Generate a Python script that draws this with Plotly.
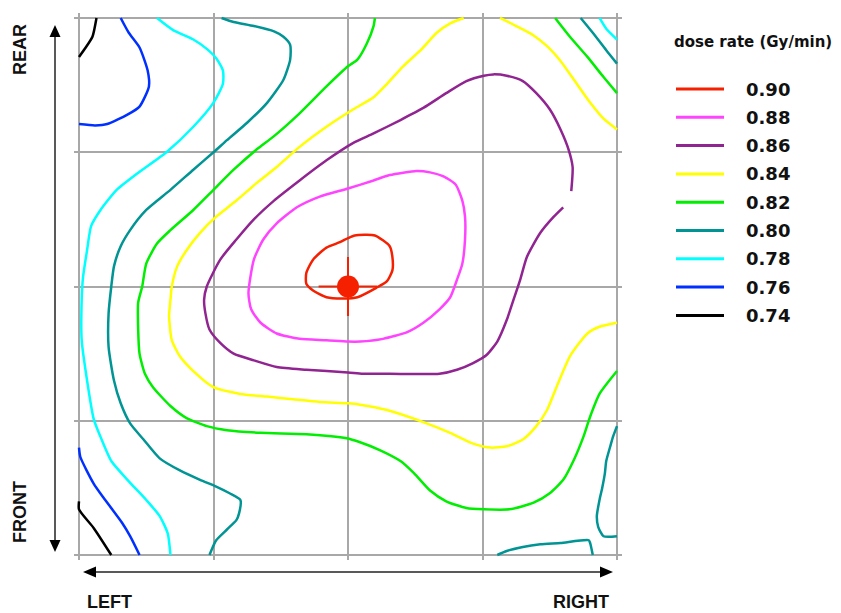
import plotly.graph_objects as go

# ---------------- data (grid units: x 0=LEFT..4=RIGHT, y 0=FRONT..4=REAR) ----------------
LEVELS = ["0.90", "0.88", "0.86", "0.84", "0.82", "0.80", "0.78", "0.76", "0.74"]
COLORS = ["#f52000", "#ff44ff", "#902490", "#ffff00", "#00ee00", "#009494", "#00ffff", "#0030ff", "#000000"]

c090_x = [2.00, 2.05, 2.20, 2.31, 2.33, 2.33, 2.29, 2.21, 2.07, 1.97, 1.84, 1.74, 1.69, 1.69, 1.74, 1.84, 1.94, 2.00]
c090_y = [2.36, 2.38, 2.38, 2.30, 2.22, 2.12, 2.04, 1.99, 1.92, 1.91, 1.92, 1.97, 2.02, 2.10, 2.20, 2.29, 2.33, 2.36]

c088_x = [2.00, 2.19, 2.31, 2.51, 2.61, 2.71, 2.80, 2.85, 2.87, 2.87, 2.85, 2.81, 2.76, 2.68, 2.56, 2.44,
          2.26, 2.09, 2.00, 1.84, 1.64, 1.47, 1.35, 1.28, 1.26, 1.30, 1.37, 1.47, 1.62, 1.79, 2.00]
c088_y = [2.73, 2.79, 2.83, 2.86, 2.85, 2.82, 2.76, 2.64, 2.52, 2.35, 2.17, 2.05, 1.92, 1.83, 1.73, 1.66,
          1.61, 1.59, 1.59, 1.60, 1.61, 1.65, 1.73, 1.83, 1.95, 2.20, 2.35, 2.47, 2.59, 2.67, 2.73]

c086_x = [3.66, 3.67, 3.64, 3.58, 3.50, 3.40, 3.30, 3.18, 3.08, 3.01, 2.88, 2.73, 2.56, 2.39, 2.19, 2.04,
          1.84, 1.64, 1.45, 1.30, 1.17, 1.05, 0.95, 0.93, 0.94, 0.97, 1.05, 1.15, 1.30, 1.47, 1.69, 2.00,
          2.11, 2.31, 2.68, 2.81, 2.93, 3.03, 3.11, 3.18, 3.23, 3.28, 3.33, 3.43, 3.53, 3.60]
c086_y = [2.71, 2.89, 3.02, 3.17, 3.32, 3.44, 3.53, 3.57, 3.58, 3.57, 3.53, 3.44, 3.33, 3.24, 3.14, 3.07,
          2.94, 2.79, 2.64, 2.50, 2.35, 2.20, 2.00, 1.90, 1.80, 1.68, 1.58, 1.50, 1.45, 1.40, 1.38, 1.36,
          1.35, 1.35, 1.35, 1.38, 1.43, 1.49, 1.59, 1.75, 1.90, 2.05, 2.22, 2.40, 2.52, 2.59]

c084a_x = [2.86, 2.76, 2.66, 2.54, 2.41, 2.29, 2.19, 2.04, 1.84, 1.64, 1.47, 1.32, 1.17, 1.02, 0.90, 0.80,
           0.73, 0.69, 0.68, 0.67, 0.69, 0.75, 0.85, 1.00, 1.20, 1.40, 1.59, 1.79, 2.00, 2.09, 2.29, 2.56,
           2.76, 2.93, 3.06, 3.18, 3.30, 3.40, 3.48, 3.55, 3.65, 3.78, 3.87, 4.00]
c084a_y = [4.00, 3.96, 3.89, 3.76, 3.64, 3.51, 3.41, 3.32, 3.19, 3.04, 2.89, 2.77, 2.64, 2.52, 2.40, 2.27,
           2.15, 2.00, 1.90, 1.78, 1.60, 1.48, 1.37, 1.25, 1.20, 1.18, 1.16, 1.14, 1.13, 1.12, 1.08, 0.99,
           0.91, 0.83, 0.80, 0.81, 0.86, 0.96, 1.08, 1.25, 1.48, 1.65, 1.70, 1.73]
c084b_x = [3.13, 3.25, 3.38, 3.48, 3.58, 3.68, 3.80, 3.90, 4.00]
c084b_y = [4.00, 3.94, 3.87, 3.79, 3.68, 3.54, 3.37, 3.25, 3.17]

c082a_x = [2.20, 2.19, 2.14, 2.07, 2.00, 1.84, 1.64, 1.45, 1.32, 1.15, 1.00, 0.85, 0.68, 0.58, 0.50, 0.47,
           0.44, 0.44, 0.45, 0.49, 0.55, 0.68, 0.80, 0.95, 1.10, 1.35, 1.69, 1.99, 2.09, 2.24, 2.39, 2.49,
           2.61, 2.73, 2.88, 3.01, 3.20, 3.38, 3.50, 3.60, 3.68, 3.75, 3.80, 3.87, 4.00]
c082a_y = [4.00, 3.94, 3.81, 3.69, 3.64, 3.49, 3.29, 3.12, 3.02, 2.87, 2.72, 2.57, 2.42, 2.32, 2.17, 2.00,
           1.88, 1.68, 1.50, 1.35, 1.25, 1.11, 1.02, 0.96, 0.93, 0.91, 0.90, 0.87, 0.84, 0.78, 0.70, 0.61,
           0.48, 0.40, 0.35, 0.34, 0.34, 0.39, 0.46, 0.56, 0.71, 0.88, 1.03, 1.20, 1.37]
c082b_x = [3.54, 3.65, 3.78, 3.90, 4.00]
c082b_y = [4.00, 3.86, 3.71, 3.56, 3.44]

c080a_x = [1.06, 1.15, 1.30, 1.45, 1.52, 1.57, 1.57, 1.52, 1.40, 1.25, 1.10, 1.00, 0.85, 0.68, 0.50, 0.38,
           0.31, 0.26, 0.24, 0.22, 0.22, 0.26, 0.31, 0.38, 0.48, 0.60, 0.75, 0.90, 1.02, 1.12, 1.20, 1.19,
           1.17, 1.10, 1.02, 0.97]
c080a_y = [4.00, 3.97, 3.94, 3.90, 3.86, 3.80, 3.69, 3.54, 3.37, 3.22, 3.09, 3.00, 2.87, 2.72, 2.57, 2.42,
           2.30, 2.15, 2.00, 1.80, 1.55, 1.30, 1.13, 0.98, 0.86, 0.72, 0.63, 0.56, 0.51, 0.46, 0.41, 0.31,
           0.26, 0.19, 0.11, 0.00]
c080b_x = [3.73, 3.82, 3.92, 4.00]
c080b_y = [4.00, 3.89, 3.76, 3.66]
c080c_x = [4.00, 3.97, 3.95, 3.92, 3.91, 3.89, 3.87, 3.85, 3.86, 3.90, 4.00]
c080c_y = [0.96, 0.88, 0.81, 0.70, 0.61, 0.50, 0.41, 0.29, 0.21, 0.14, 0.14]
c080d_x = [3.11, 3.18, 3.30, 3.43, 3.58, 3.79, 3.80, 3.82]
c080d_y = [0.00, 0.03, 0.06, 0.08, 0.09, 0.11, 0.09, 0.00]

c078a_x = [0.58, 0.70, 0.85, 0.95, 1.02, 1.07, 1.07, 1.00, 0.85, 0.65, 0.43, 0.28, 0.16, 0.09, 0.06, 0.03,
           0.02, 0.02, 0.06, 0.11, 0.16, 0.24, 0.36, 0.50, 0.60, 0.66, 0.68]
c078a_y = [4.00, 3.91, 3.84, 3.77, 3.70, 3.61, 3.51, 3.37, 3.19, 3.00, 2.84, 2.72, 2.57, 2.45, 2.27, 2.07,
           1.90, 1.60, 1.30, 1.01, 0.88, 0.70, 0.56, 0.41, 0.29, 0.16, 0.00]
c078b_x = [3.87, 3.92, 4.00]
c078b_y = [4.00, 3.92, 3.84]

c076a_x = [0.31, 0.37, 0.45, 0.51, 0.52, 0.45, 0.36, 0.21, 0.12, 0.00]
c076a_y = [4.00, 3.89, 3.78, 3.61, 3.49, 3.34, 3.28, 3.21, 3.20, 3.21]
c076b_x = [0.00, 0.01, 0.11, 0.18, 0.32, 0.38, 0.45]
c076b_y = [0.80, 0.73, 0.53, 0.43, 0.24, 0.14, 0.00]

c074a_x = [0.13, 0.10, 0.05, 0.00]
c074a_y = [4.00, 3.86, 3.78, 3.71]
c074b_x = [0.00, 0.00, 0.11, 0.24]
c074b_y = [0.40, 0.34, 0.20, 0.00]

CENTER_X = [2.0]
CENTER_Y = [2.0]

SEGMENTS = [
    [(c090_x, c090_y)],
    [(c088_x, c088_y)],
    [(c086_x, c086_y)],
    [(c084a_x, c084a_y), (c084b_x, c084b_y)],
    [(c082a_x, c082a_y), (c082b_x, c082b_y)],
    [(c080a_x, c080a_y), (c080b_x, c080b_y), (c080c_x, c080c_y), (c080d_x, c080d_y)],
    [(c078a_x, c078a_y), (c078b_x, c078b_y)],
    [(c076a_x, c076a_y), (c076b_x, c076b_y)],
    [(c074a_x, c074a_y), (c074b_x, c074b_y)],
]

# ---------------- layout geometry ----------------
# the page body has an 8px margin, so the figure is placed at (8, 8) in the window
OFF = 8
WIN_W, WIN_H = 841, 613
W, H = WIN_W - OFF, WIN_H - OFF
PLOT_L, PLOT_R, PLOT_T, PLOT_B = 74, 622, 13, 560   # plot area in window pixels
ML, MR, MT, MB = PLOT_L - OFF, WIN_W - PLOT_R, PLOT_T - OFF, WIN_H - PLOT_B
PW, PH = PLOT_R - PLOT_L, PLOT_B - PLOT_T


def px(x):
    return (x - PLOT_L) / PW


def py(y):
    return (PLOT_B - y) / PH


fig = go.Figure()

for lvl_segs, col in zip(SEGMENTS, COLORS):
    for xs, ys in lvl_segs:
        fig.add_trace(go.Scatter(x=xs, y=ys, mode="lines",
                                 line=dict(color=col, width=2.5, shape="spline", smoothing=0.6),
                                 showlegend=False, hoverinfo="skip"))

fig.add_trace(go.Scatter(x=CENTER_X, y=CENTER_Y, mode="markers",
                         marker=dict(symbol="cross-thin", size=42, line=dict(color=COLORS[0], width=2)),
                         showlegend=False, hoverinfo="skip"))
fig.add_trace(go.Scatter(x=CENTER_X, y=CENTER_Y, mode="markers",
                         marker=dict(symbol="circle", size=22, color=COLORS[0]),
                         showlegend=False, hoverinfo="skip"))

ext = 5 / 134.5
axis_common = dict(range=[-ext, 4 + ext], dtick=1, tick0=0, showgrid=True, gridcolor="#a8a8a8",
                   gridwidth=1.5, zeroline=False, showticklabels=False, ticks="", showline=False,
                   fixedrange=True)

shapes = []
annotations = []
ARROW = "#222222"
# vertical double arrow
shapes.append(dict(type="line", xref="paper", yref="paper", x0=px(55), x1=px(55), y0=py(34), y1=py(543),
                   line=dict(color=ARROW, width=1.5)))
shapes.append(dict(type="path", xref="paper", yref="paper",
                   path=f"M {px(55)},{py(25)} L {px(49.5)},{py(37)} L {px(60.5)},{py(37)} Z",
                   fillcolor="#000000", line=dict(width=0)))
shapes.append(dict(type="path", xref="paper", yref="paper",
                   path=f"M {px(55)},{py(552)} L {px(49.5)},{py(540)} L {px(60.5)},{py(540)} Z",
                   fillcolor="#000000", line=dict(width=0)))
# horizontal double arrow
shapes.append(dict(type="line", xref="paper", yref="paper", x0=px(92), x1=px(604), y0=py(572), y1=py(572),
                   line=dict(color=ARROW, width=1.5)))
shapes.append(dict(type="path", xref="paper", yref="paper",
                   path=f"M {px(83)},{py(572)} L {px(96)},{py(566.5)} L {px(96)},{py(577.5)} Z",
                   fillcolor="#000000", line=dict(width=0)))
shapes.append(dict(type="path", xref="paper", yref="paper",
                   path=f"M {px(613)},{py(572)} L {px(600)},{py(566.5)} L {px(600)},{py(577.5)} Z",
                   fillcolor="#000000", line=dict(width=0)))

LBL = dict(family="Liberation Sans, Arial, sans-serif", size=18, color="#111111")
for text, x, y, ang in [("REAR", 20, 50, -90), ("FRONT", 20, 512, -90), ("LEFT", 109, 602, 0),
                        ("RIGHT", 581, 602, 0)]:
    annotations.append(dict(text=f"<b>{text}</b>", x=px(x), y=py(y), xref="paper", yref="paper",
                            showarrow=False, textangle=ang, xanchor="center", yanchor="middle", font=LBL))

# legend (manual)
LEG_FONT = dict(family="DejaVu Sans, sans-serif", size=18, color="#111111")
annotations.append(dict(text="<b>dose rate (Gy/min)</b>", x=px(672), y=py(42), xref="paper", yref="paper",
                        showarrow=False, xanchor="left", yanchor="middle",
                        font=dict(family="DejaVu Sans, sans-serif", size=15, color="#111111")))
row0, drow = 89, 28.3
for i, (lab, col) in enumerate(zip(LEVELS, COLORS)):
    yy = row0 + i * drow
    shapes.append(dict(type="line", xref="paper", yref="paper", x0=px(676), x1=px(724), y0=py(yy), y1=py(yy),
                       line=dict(color=col, width=3)))
    annotations.append(dict(text=f"<b>{lab}</b>", x=px(744), y=py(yy), xref="paper", yref="paper",
                            showarrow=False, xanchor="left", yanchor="middle", font=LEG_FONT))

fig.update_layout(
    width=W, height=H,
    margin=dict(l=ML, r=MR, t=MT, b=MB, pad=0),
    paper_bgcolor="white", plot_bgcolor="white",
    xaxis=axis_common, yaxis=axis_common,
    shapes=shapes, annotations=annotations,
    showlegend=False,
)

fig.write_html("out.html")
